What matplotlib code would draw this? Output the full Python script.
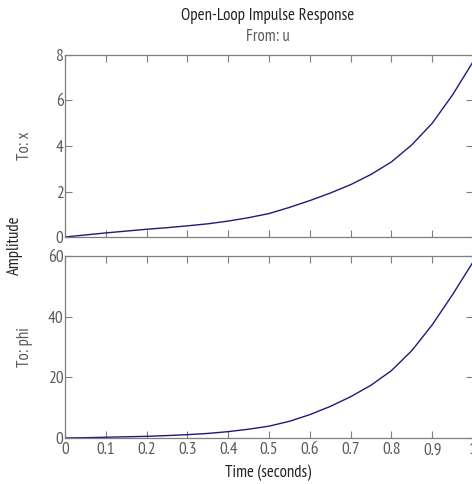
import matplotlib
matplotlib.use("Agg")
import matplotlib.pyplot as plt

t = [0.0, 0.05, 0.1, 0.15, 0.2, 0.25, 0.3, 0.35, 0.4, 0.45, 0.5,
     0.55, 0.6, 0.65, 0.7, 0.75, 0.8, 0.85, 0.9, 0.95, 1.0]
x_resp = [0.0, 0.09, 0.18, 0.26, 0.34, 0.41, 0.49, 0.58, 0.70, 0.85, 1.03,
          1.30, 1.60, 1.93, 2.30, 2.75, 3.30, 4.05, 5.00, 6.25, 7.70]
phi_resp = [0.0, 0.1, 0.25, 0.4, 0.55, 0.8, 1.1, 1.5, 2.1, 2.9, 3.9,
            5.5, 7.7, 10.4, 13.6, 17.4, 22.2, 28.8, 37.3, 47.3, 58.0]
xticks = [0, 0.1, 0.2, 0.3, 0.4, 0.5, 0.6, 0.7, 0.8, 0.9, 1]
xticklabels = ["0", "0.1", "0.2", "0.3", "0.4", "0.5", "0.6", "0.7", "0.8", "0.9", "1"]
yticks_x = [0, 2, 4, 6, 8]
yticks_phi = [0, 20, 40, 60]

plt.rcParams['font.family'] = ['PT Sans Narrow', 'Roboto Condensed', 'DejaVu Sans']

W, H = 472, 484
fig = plt.figure(figsize=(W / 100, H / 100), dpi=100)

def frac(l, top, r, b):
    return [l / W, 1 - b / H, (r - l) / W, (b - top) / H]

ax1 = fig.add_axes(frac(65, 55, 473, 237))
ax2 = fig.add_axes(frac(65, 256, 473, 438))

spine_col = "#7f7f7f"
lab_col = "#5a5a5a"
line_col = "#1c1c78"

for ax, y, yt in [(ax1, x_resp, yticks_x), (ax2, phi_resp, yticks_phi)]:
    ax.plot(t, y, color=line_col, lw=1.0)
    ax.set_xlim(0, 1)
    ax.set_ylim(yt[0], yt[-1])
    ax.set_xticks(xticks)
    ax.set_yticks(yt)
    ax.tick_params(direction='in', top=True, right=True, length=5,
                   color=spine_col, labelcolor=lab_col, labelsize=12.5, pad=1)
    for s in ax.spines.values():
        s.set_color(spine_col)
        s.set_linewidth(0.9)

ax1.set_xticklabels([])
ax2.set_xticklabels(xticklabels)
ax2.tick_params(axis='x', pad=3)

ax1.set_ylabel("To: x", color=lab_col, fontsize=12)
ax2.set_ylabel("To: phi", color=lab_col, fontsize=12)
ax1.yaxis.set_label_coords(-32 / 408, 0.5)
ax2.yaxis.set_label_coords(-32 / 408, 0.5)

fig.text(268 / W, 1 - 16 / H, "Open-Loop Impulse Response", ha='center', va='center',
         fontsize=12.2, color="#222222")
fig.text(268 / W, 1 - 37 / H, "From: u", ha='center', va='center',
         fontsize=12, color=lab_col)
fig.text(15 / W, 1 - 245 / H, "Amplitude", ha='center', va='center', rotation=90,
         fontsize=12, color="#222222")
fig.text(268 / W, 1 - 473 / H, "Time (seconds)", ha='center', va='center',
         fontsize=12, color="#222222")

fig.savefig("out.png", dpi=100)
